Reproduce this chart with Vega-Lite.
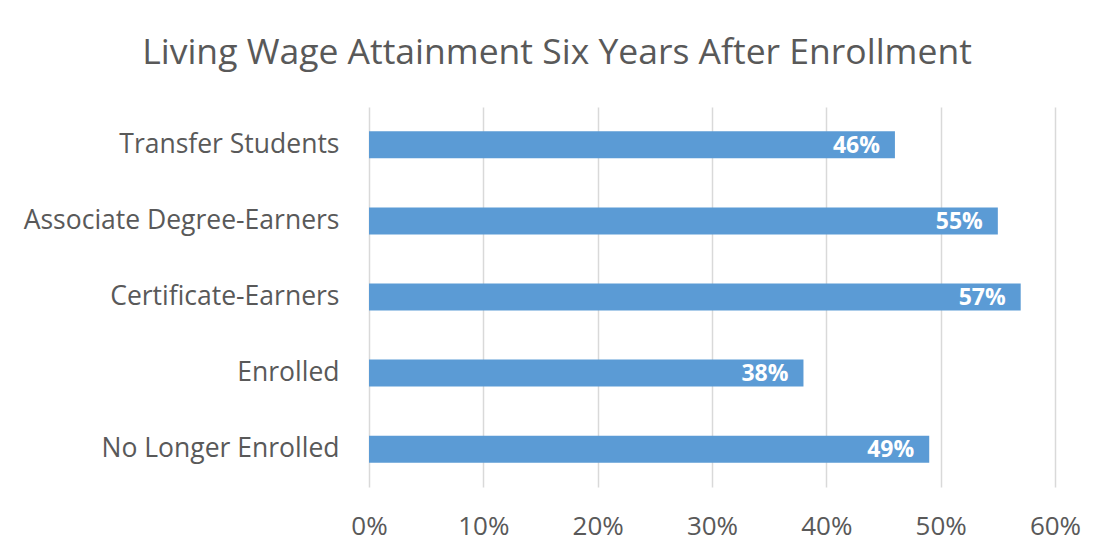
{
  "$schema": "https://vega.github.io/schema/vega-lite/v6.json",
  "autosize": {"type": "none"},
  "width": 686,
  "height": 380,
  "padding": {"left": 369, "top": 107, "right": 42, "bottom": 69},
  "background": "white",
  "title": {
    "text": "Living Wage Attainment Six Years After Enrollment",
    "anchor": "middle",
    "frame": "group",
    "dx": -155,
    "offset": 36,
    "fontSize": 35.5,
    "font": "Open Sans",
    "fontWeight": "normal",
    "color": "#595959"
  },
  "data": {
    "values": [
      {"group": "Transfer Students", "value": 0.46},
      {"group": "Associate Degree-Earners", "value": 0.55},
      {"group": "Certificate-Earners", "value": 0.57},
      {"group": "Enrolled", "value": 0.38},
      {"group": "No Longer Enrolled", "value": 0.49}
    ]
  },
  "encoding": {
    "y": {
      "field": "group",
      "type": "nominal",
      "sort": null,
      "title": null,
      "scale": {"paddingInner": 0.645, "paddingOuter": 0.32},
      "axis": {
        "domain": false,
        "ticks": false,
        "labelPadding": 30,
        "labelFontSize": 26.5,
        "labelFont": "Open Sans",
        "labelColor": "#595959",
        "labelLimit": 400
      }
    },
    "x": {
      "field": "value",
      "type": "quantitative",
      "title": null,
      "scale": {"domain": [0, 0.6], "nice": false},
      "axis": {
        "format": ".0%",
        "values": [0, 0.1, 0.2, 0.3, 0.4, 0.5, 0.6],
        "domain": false,
        "ticks": false,
        "grid": true,
        "gridColor": "#d9d9d9",
        "gridWidth": 1.5,
        "labelFlush": false,
        "labelOverlap": false,
        "labelBound": false,
        "labelPadding": 26,
        "labelFontSize": 26,
        "labelFont": "Open Sans",
        "labelColor": "#595959"
      }
    }
  },
  "layer": [
    {"mark": {"type": "bar", "color": "#5B9BD5"}},
    {
      "mark": {
        "type": "text",
        "align": "right",
        "baseline": "middle",
        "dx": -15,
        "dy": 1,
        "color": "white",
        "fontWeight": "bold",
        "fontSize": 23,
        "font": "Open Sans"
      },
      "encoding": {"text": {"field": "value", "type": "quantitative", "format": ".0%"}}
    }
  ],
  "config": {"view": {"stroke": null}}
}
